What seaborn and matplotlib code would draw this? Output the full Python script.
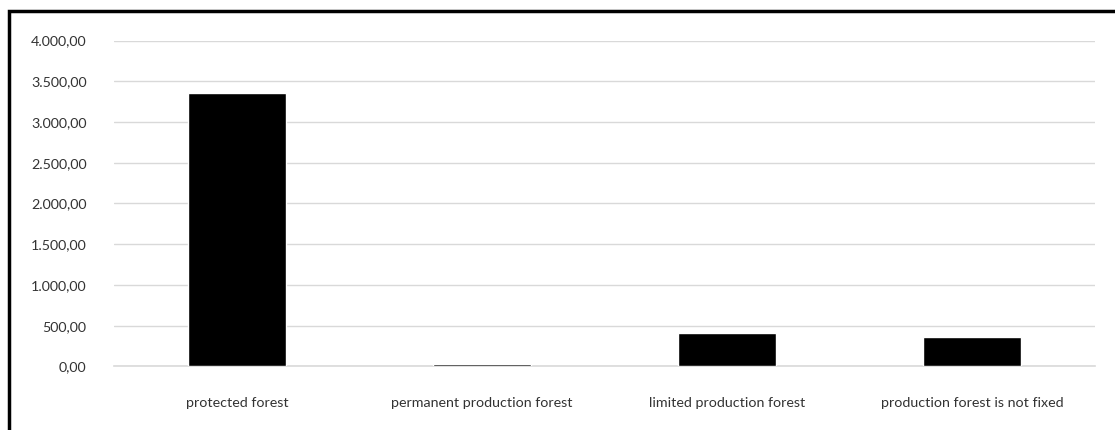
"""Forest area by function - bar chart"""

import matplotlib.pyplot as plt
import pandas as pd
import seaborn as sns
from matplotlib.patches import Rectangle
from matplotlib.ticker import FuncFormatter

categories = [
    "protected forest",
    "permanent production forest",
    "limited production forest",
    "production forest is not fixed",
]
areas = [3362.0, 34.0, 415.0, 358.0]
y_ticks = [0, 500, 1000, 1500, 2000, 2500, 3000, 3500, 4000]


def euro_fmt(v, _pos=None):
    s = f"{v:,.2f}"
    return s.replace(",", "X").replace(".", ",").replace("X", ".")


sns.set_theme(style="white")
plt.rcParams["font.family"] = ["Lato", "DejaVu Sans"]

df = pd.DataFrame({"category": categories, "area": areas})

fig = plt.figure(figsize=(11.15, 4.3), dpi=100)
ax = fig.add_axes([0.1026, 0.1477, 0.8794, 0.7581])

sns.barplot(data=df, x="category", y="area", color="black", saturation=1,
            width=0.4, ax=ax, zorder=3)

ax.set_ylim(0, 4000)
ax.set_xlim(-0.5, 3.5)
ax.set_yticks(y_ticks)
ax.yaxis.set_major_formatter(FuncFormatter(euro_fmt))
ax.grid(axis="y", color="#d9d9d9", linewidth=1)
ax.set_axisbelow(True)
for side in ["top", "right", "left"]:
    ax.spines[side].set_visible(False)
ax.spines["bottom"].set_color("#d9d9d9")
ax.spines["bottom"].set_linewidth(1.2)
ax.spines["bottom"].set_zorder(1)
ax.tick_params(axis="both", length=0, labelsize=10.3, colors="#333333")
ax.tick_params(axis="y", pad=20)
ax.tick_params(axis="x", pad=22)
ax.set_xlabel("")
ax.set_ylabel("")

# outer chart frame
fig.patches.append(Rectangle((9 / 1115, -0.1), 1.2, 1 - 11 / 430 + 0.1,
                             transform=fig.transFigure, fill=False,
                             edgecolor="black", linewidth=2.5))

plt.savefig("out.png", dpi=100)
